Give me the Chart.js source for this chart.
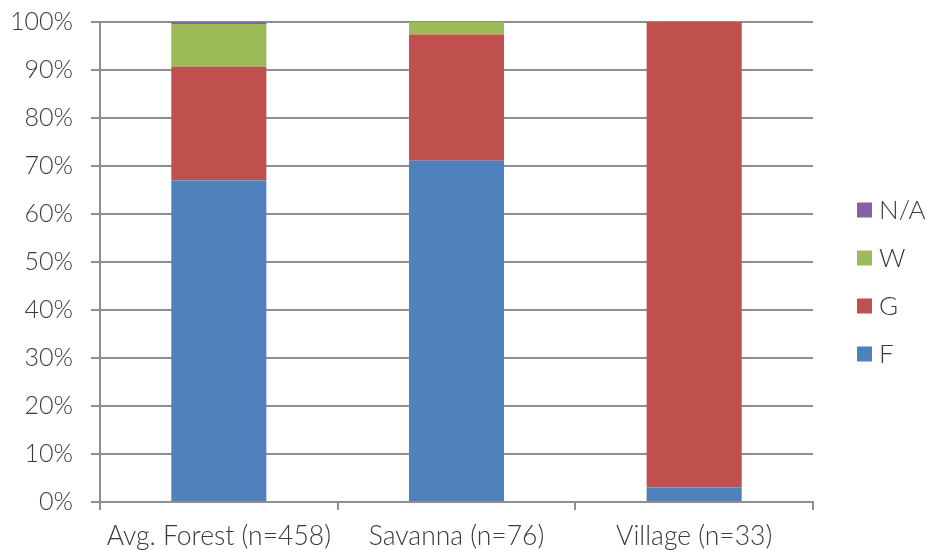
<!DOCTYPE html>
<html>
<head>
<meta charset="utf-8">
<script src="https://cdn.jsdelivr.net/npm/chart.js@4/dist/chart.umd.min.js"></script>
<style>
  html, body { margin: 0; padding: 0; background: #fff; }
  #wrap { width: 926px; height: 550px; position: relative; }
</style>
</head>
<body>
<div id="wrap"><canvas id="chartCanvas"></canvas></div>
<script>
const categories = ["Avg. Forest (n=458)", "Savanna (n=76)", "Village (n=33)"];
const fValues = [67.0, 71.1, 3.0];
const gValues = [23.6, 26.3, 97.0];
const wValues = [9.0, 2.6, 0];
const naValues = [0.4, 0, 0];
const yTicks = [0, 10, 20, 30, 40, 50, 60, 70, 80, 90, 100];

const textColor = "#3a3a3a";
const lineColor = "#8f8f8f";
const fontFamily = "Lato, 'Open Sans', sans-serif";

// legend on the right, drawn by hand so spacing matches the layout
const sideLegend = {
  id: "sideLegend",
  afterDraw(chart) {
    const ctx = chart.ctx;
    const area = chart.chartArea;
    const sets = chart.data.datasets.slice().reverse();
    const x = area.right + 44;
    const startY = 210;
    const step = 48;
    ctx.save();
    ctx.font = "300 26px " + fontFamily;
    ctx.textBaseline = "middle";
    sets.forEach((ds, i) => {
      const cy = startY + i * step;
      ctx.fillStyle = ds.backgroundColor;
      ctx.fillRect(x, cy - 7.5, 15, 15);
      ctx.fillStyle = textColor;
      ctx.fillText(ds.label, x + 22, cy + 1);
    });
    ctx.restore();
  }
};

const ctx = document.getElementById("chartCanvas").getContext("2d");
new Chart(ctx, {
  type: "bar",
  data: {
    labels: categories,
    datasets: [
      { label: "F", data: fValues, backgroundColor: "#4F81BD" },
      { label: "G", data: gValues, backgroundColor: "#C0504D" },
      { label: "W", data: wValues, backgroundColor: "#9BBB59" },
      { label: "N/A", data: naValues, backgroundColor: "#8064A2" }
    ]
  },
  options: {
    responsive: true,
    maintainAspectRatio: false,
    animation: false,
    layout: { padding: { left: 0, right: 113, top: 22, bottom: 0 } },
    datasets: {
      bar: { barPercentage: 0.4, categoryPercentage: 1.0, borderWidth: 0 }
    },
    plugins: {
      legend: { display: false },
      tooltip: { enabled: false }
    },
    scales: {
      x: {
        stacked: true,
        afterFit(scale) { scale.height = 48; },
        grid: {
          offset: true,
          drawOnChartArea: false,
          drawTicks: true,
          tickLength: 8,
          color: lineColor,
          lineWidth: 2
        },
        border: { display: true, color: lineColor, width: 2 },
        ticks: {
          color: textColor,
          padding: 11,
          maxRotation: 0,
          font: { family: fontFamily, size: 26.5, weight: 300 }
        }
      },
      y: {
        stacked: true,
        min: 0,
        max: 100,
        afterFit(scale) {
          scale.width = 100;
          scale.paddingTop = 0;
          scale.paddingBottom = 0;
        },
        afterBuildTicks(scale) { scale.ticks = yTicks.map(v => ({ value: v })); },
        grid: {
          color: lineColor,
          lineWidth: 2,
          tickLength: 9
        },
        border: { display: true, color: lineColor, width: 2 },
        ticks: {
          color: textColor,
          padding: 18,
          font: { family: fontFamily, size: 25, weight: 300 },
          callback: v => v + "%"
        }
      }
    }
  },
  plugins: [sideLegend]
});
</script>
</body>
</html>
